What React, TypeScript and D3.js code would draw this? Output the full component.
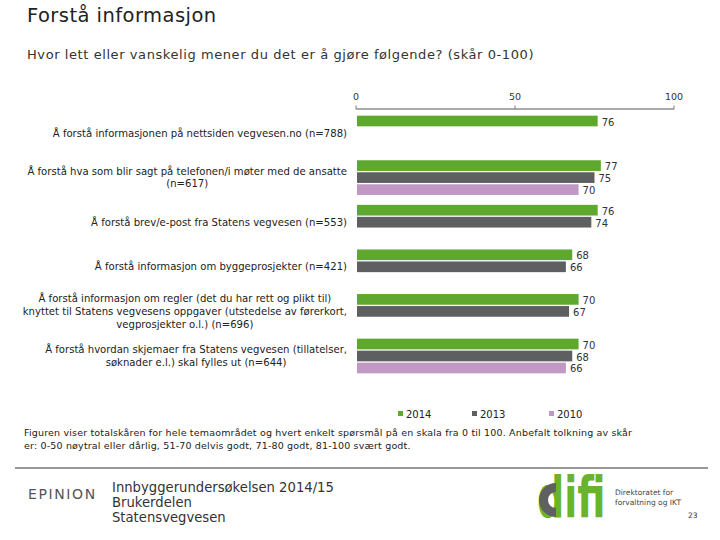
import React from "react";
import * as d3 from "d3";

const categories: string[][] = [
  ["Å forstå informasjonen på nettsiden vegvesen.no (n=788)"],
  ["Å forstå hva som blir sagt på telefonen/i møter med de ansatte", "(n=617)"],
  ["Å forstå brev/e-post fra Statens vegvesen (n=553)"],
  ["Å forstå informasjon om byggeprosjekter (n=421)"],
  [
    "Å forstå informasjon om regler (det du har rett og plikt til)",
    "knyttet til Statens vegvesens oppgaver (utstedelse av førerkort,",
    "vegprosjekter o.l.) (n=696)",
  ],
  ["Å forstå hvordan skjemaer fra Statens vegvesen (tillatelser,", "søknader e.l.) skal fylles ut (n=644)"],
];
const seriesNames = ["2014", "2013", "2010"];
const values2014 = [76, 77, 76, 68, 70, 70];
const values2013 = [null, 75, 74, 66, 67, 68];
const values2010 = [null, 70, null, null, null, 66];
const xTicks = [0, 50, 100];
const colors = ["#5ea92d", "#5e5f61", "#c198c4"];

const FONT = "'DejaVu Sans', Verdana, sans-serif";

let ctx: CanvasRenderingContext2D | null = null;
function measure(text: string, size: number) {
  if (!ctx) ctx = document.createElement("canvas").getContext("2d");
  if (!ctx) return text.length * size * 0.55;
  ctx.font = `${size}px 'DejaVu Sans'`;
  return ctx.measureText(text).width;
}

export default function App() {
  const W = 720,
    H = 540;
  const x = d3.scaleLinear().domain([0, 100]).range([356, 674]);
  const keys = categories.map((_, i) => String(i));
  const y = d3.scaleBand().domain(keys).range([110.7, 378.3]).paddingInner(0.193).paddingOuter(0.0965);
  const ys = d3.scaleBand().domain(seriesNames).range([0, y.bandwidth()]).paddingInner(0.11).paddingOuter(0.055);
  const allSeries = [values2014, values2013, values2010];
  const labelSize = 10.1;
  const labelRight = 347;
  const lineH = 12.6;

  return (
    <svg width={W} height={H} style={{ display: "block", position: "absolute", left: 0, top: 0 }} fontFamily={FONT}>
      <rect width={W} height={H} fill="#fff" />
      <text x={27} y={22} fontSize={19.5} fill="#222" letterSpacing={0.45}>Forstå informasjon</text>
      <text x={27} y={59} fontSize={13} fill="#333" letterSpacing={0.58}>
        Hvor lett eller vanskelig mener du det er å gjøre følgende? (skår 0-100)
      </text>

      {/* axis */}
      <g>
        <line x1={x(0)} x2={x(100)} y1={109} y2={109} stroke="#8c8c8c" strokeWidth={1.5} />
        {xTicks.map((t) => (
          <g key={t}>
            <line x1={x(t)} x2={x(t)} y1={105.5} y2={109} stroke="#8c8c8c" strokeWidth={1.2} />
            <text x={x(t)} y={100} fontSize={9.5} textAnchor="middle" fill="#333">
              {t}
            </text>
          </g>
        ))}
      </g>

      {/* bars */}
      {categories.map((lines, ci) => {
        const y0 = y(String(ci))!;
        const cy = y0 + y.bandwidth() / 2;
        const widths = lines.map((l) => measure(l, labelSize));
        const maxW = Math.max(...widths);
        const center = labelRight - maxW / 2;
        const startY = cy - ((lines.length - 1) * lineH) / 2 + 3.5;
        return (
          <g key={ci}>
            {lines.map((l, li) => (
              <text key={li} x={center} y={startY + li * lineH} fontSize={labelSize} textAnchor="middle" fill="#222">
                {l}
              </text>
            ))}
            {allSeries.map((vals, si) => {
              const v = vals[ci];
              if (v == null) return null;
              const by = y0 + ys(seriesNames[si])!;
              return (
                <g key={si}>
                  <rect x={x(0) + 1} y={by} width={x(v) - x(0) - 1} height={ys.bandwidth()} fill={colors[si]} />
                  <text x={x(v) + 4} y={by + ys.bandwidth() / 2 + 4.5} fontSize={10} fill="#333">
                    {v}
                  </text>
                </g>
              );
            })}
          </g>
        );
      })}

      {/* legend */}
      {seriesNames.map((s, i) => {
        const lx = [398, 472, 549][i];
        return (
          <g key={s}>
            <rect x={lx} y={411} width={5} height={5} fill={colors[i]} />
            <text x={lx + 8} y={418} fontSize={10} fill="#222">
              {s}
            </text>
          </g>
        );
      })}

      <text x={24} y={436} fontSize={9.5} fill="#222" letterSpacing={0.17}>
        Figuren viser totalskåren for hele temaområdet og hvert enkelt spørsmål på en skala fra 0 til 100. Anbefalt tolkning av skår
      </text>
      <text x={24} y={449} fontSize={9.5} fill="#222" letterSpacing={0.17}>
        er: 0-50 nøytral eller dårlig, 51-70 delvis godt, 71-80 godt, 81-100 svært godt.
      </text>

      {/* footer */}
      <line x1={15} x2={708} y1={468} y2={468} stroke="#333" strokeWidth={1} />
      <text x={28} y={499} fontSize={14} fill="#555" letterSpacing={1.6}>
        EPINION
      </text>
      <text x={112} y={492} fontSize={13.2} fill="#333">Innbyggerundersøkelsen 2014/15</text>
      <text x={112} y={507} fontSize={13.2} fill="#333">Brukerdelen</text>
      <text x={112} y={522} fontSize={13.2} fill="#333">Statensvegvesen</text>

      {/* difi logo */}
      <g>
        <text transform="translate(537,517) scale(0.68,1)" x={0} y={0} fontSize={56} fontWeight="bold" fill="#6ab42d">
          difi
        </text>
        <path d="M556,483 A17,17 0 1 0 556,517 L556,508 A8,8 0 1 1 556,492 Z" fill="#5f6062" />
        <text x={615} y={495} fontSize={7.5} fill="#444">Direktoratet for</text>
        <text x={615} y={505} fontSize={7.5} fill="#444">forvaltning og IKT</text>
      </g>
      <text x={688} y={518} fontSize={7.5} fill="#333">23</text>
    </svg>
  );
}
